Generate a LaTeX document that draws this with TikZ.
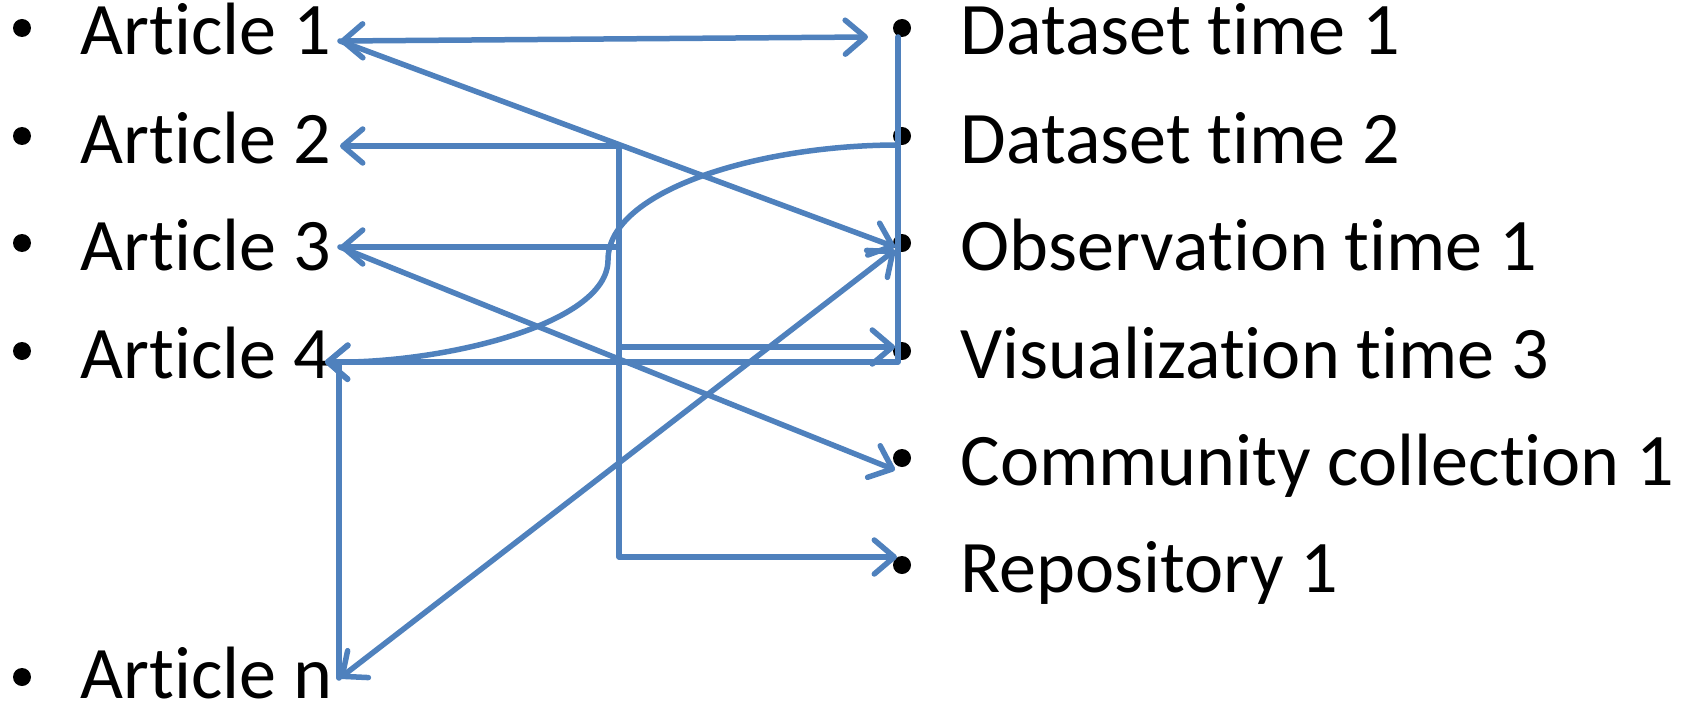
\documentclass[tikz,border=0pt]{standalone}
\usepackage{fontspec}
\setmainfont[Ligatures=NoCommon]{Carlito}
\usetikzlibrary{arrows.meta}

\definecolor{linkblue}{RGB}{79,129,189}
\tikzset{
  item/.style={anchor=base west, inner sep=0pt, font=\fontsize{21.1}{25}\selectfont},
  dot/.style={circle, fill=black, inner sep=0pt, minimum size=1.8mm},
  link/.style={draw=linkblue, line width=0.55mm, line cap=round, line join=round},
  linkto/.style={-{Straight Barb[length=2mm,width=3.4mm,round]}},
  linkboth/.style={{Straight Barb[length=2mm,width=3.4mm,round]}-{Straight Barb[length=2mm,width=3.4mm,round]}},
}

\begin{document}
\begin{tikzpicture}[x=0.1mm,y=-0.1mm]
    \useasboundingbox (0,0) rectangle (1694,704);

    % left column
    \node[dot] (b-a1) at (22,28) {};
    \node[dot] (b-a2) at (22,136) {};
    \node[dot] (b-a3) at (22,243) {};
    \node[dot] (b-a4) at (22,351) {};
    \node[dot] (b-an) at (22,677) {};
    \node[item] (art1) at (80,55) {Article 1};
    \node[item] (art2) at (80,163) {Article 2};
    \node[item] (art3) at (80,270) {Article 3};
    \node[item] (art4) at (80,378) {Article 4};
    \node[item] (artn) at (80,698) {Article n};

    % right column
    \node[dot] (b-d1) at (902,28) {};
    \node[dot] (b-d2) at (902,136) {};
    \node[dot] (b-o1) at (902,243) {};
    \node[dot] (b-v3) at (902,351) {};
    \node[dot] (b-c1) at (902,458) {};
    \node[dot] (b-r1) at (902,565) {};
    \node[item] (dset1) at (960,55) {Dataset time 1};
    \node[item] (dset2) at (960,163) {Dataset time 2};
    \node[item] (obs1) at (960,270) {Observation time 1};
    \node[item] (vis3) at (960,378) {Visualization time 3};
    \node[item] (com1) at (960,485) {Community collection 1};
    \node[item] (rep1) at (960,592) {Repository 1};

    % connector ends
    \coordinate (a1-in) at (340,41);
    \coordinate (a2-in) at (340,146);
    \coordinate (a3-in) at (340,247);
    \coordinate (a4-in) at (325,362);
    \coordinate (a4-drop) at (339,364);
    \coordinate (an-in) at (340,678);
    \coordinate (d1-in) at (868,37);
    \coordinate (d1-out) at (898,37);
    \coordinate (d2-out) at (898,145);
    \coordinate (o1-in) at (895,247);
    \coordinate (o1-in2) at (895,250);
    \coordinate (v3-in) at (895,347);
    \coordinate (c1-in) at (895,470);
    \coordinate (r1-in) at (897,557);
    \coordinate (fork-top) at (619,146);
    \coordinate (fork-a3) at (619,247);
    \coordinate (fork-v3) at (619,347);

    \draw[link, linkboth] (a1-in) -- (d1-in);
    \draw[link, linkto] (a1-in) -- (o1-in);
    \draw[link, linkto] (fork-top) -- (a2-in);
    \draw[link, linkto] (fork-top) |- (r1-in);
    \draw[link, linkto] (fork-a3) -- (a3-in);
    \draw[link, linkto] (fork-v3) -- (v3-in);
    \draw[link, linkto] (a3-in) -- (c1-in);
    \draw[link, linkto] (d1-out) |- (a4-in);
    \draw[link, linkto] (d2-out) .. controls (760,145) and (608,190) .. (608,260)
        .. controls (608,325) and (440,364) .. (a4-in);
    \draw[link] (a4-drop) -- (a4-drop |- an-in);
    \draw[link, linkboth] (an-in) -- (o1-in2);
\end{tikzpicture}
\end{document}
